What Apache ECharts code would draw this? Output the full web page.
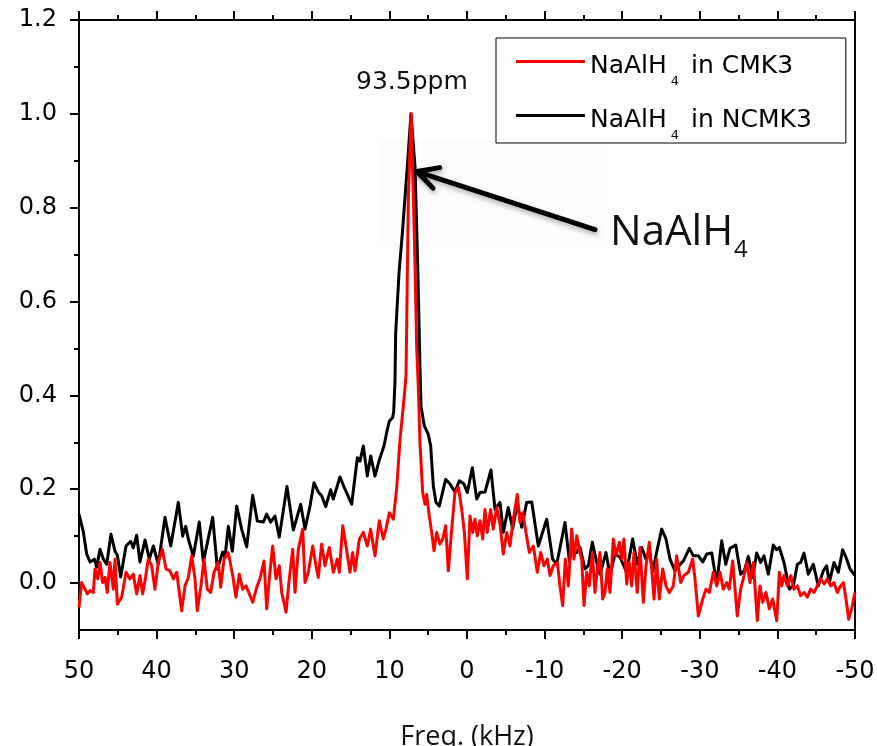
<!DOCTYPE html>
<html>
<head>
<meta charset="utf-8">
<script src="https://cdn.jsdelivr.net/npm/echarts@6/dist/echarts.min.js"></script>
<style>
  html, body { margin: 0; padding: 0; background: #fff; }
  #chart { width: 877px; height: 746px; }
</style>
</head>
<body>
<div id="chart"></div>
<script>
// 27Al NMR spectra, frequency offset in kHz (axis runs from +50 to -50)
const freqNCMK3 = [50.0, 49.44, 49.01, 48.58, 48.02, 47.72, 47.29, 46.86, 46.43, 45.88, 45.36, 45.06, 44.63, 43.94, 43.34, 43.00, 42.57, 42.14, 41.49, 40.94, 40.42, 39.78, 38.92, 38.18, 37.20, 36.64, 36.25, 35.91, 35.27, 34.50, 33.98, 32.77, 32.17, 31.49, 31.19, 30.76, 30.24, 29.68, 29.04, 28.39, 27.62, 27.02, 26.25, 25.81, 25.30, 24.74, 24.19, 23.20, 22.38, 21.43, 20.88, 20.23, 19.72, 19.16, 18.73, 18.21, 17.57, 17.23, 16.37, 15.72, 14.86, 14.13, 13.79, 13.36, 12.84, 12.41, 11.86, 11.34, 10.70, 10.35, 10.01, 9.58, 9.45, 9.28, 9.19, 8.76, 8.33, 7.69, 7.22, 6.70, 6.35, 6.06, 5.93, 5.50, 4.99, 4.68, 4.34, 4.00, 3.57, 2.75, 2.19, 1.55, 0.99, 0.39, -0.04, -0.69, -1.25, -1.68, -2.32, -3.09, -3.61, -4.25, -4.68, -5.32, -5.89, -6.48, -7.05, -7.69, -8.34, -9.19, -10.27, -11.04, -11.56, -12.63, -13.19, -13.62, -14.14, -14.56, -15.21, -15.63, -16.15, -16.71, -17.14, -17.91, -18.43, -19.07, -19.72, -20.57, -21.35, -21.94, -22.51, -23.07, -23.49, -23.93, -24.52, -25.09, -25.64, -26.16, -26.80, -27.45, -27.88, -28.65, -29.17, -29.81, -30.38, -30.89, -31.54, -32.18, -32.82, -33.34, -33.89, -34.63, -35.27, -35.74, -36.25, -36.82, -37.33, -37.85, -38.27, -38.83, -39.47, -39.91, -40.25, -40.85, -41.54, -42.05, -42.57, -43.00, -43.43, -43.98, -44.63, -45.27, -45.91, -46.35, -46.69, -47.29, -47.85, -48.41, -48.84, -49.36, -50.0];
const intNCMK3 = [0.147, 0.109, 0.062, 0.045, 0.051, 0.034, 0.072, 0.051, 0.040, 0.104, 0.068, 0.060, 0.013, 0.079, 0.089, 0.075, 0.102, 0.045, 0.092, 0.051, 0.079, 0.040, 0.140, 0.079, 0.172, 0.100, 0.121, 0.094, 0.057, 0.130, 0.045, 0.140, 0.030, 0.066, 0.055, 0.121, 0.068, 0.164, 0.115, 0.077, 0.187, 0.132, 0.130, 0.147, 0.130, 0.143, 0.098, 0.206, 0.113, 0.168, 0.115, 0.164, 0.214, 0.194, 0.186, 0.163, 0.199, 0.179, 0.226, 0.200, 0.168, 0.267, 0.260, 0.292, 0.228, 0.271, 0.228, 0.260, 0.292, 0.321, 0.345, 0.353, 0.365, 0.430, 0.533, 0.661, 0.746, 0.888, 1.000, 0.888, 0.675, 0.462, 0.377, 0.335, 0.317, 0.292, 0.207, 0.172, 0.164, 0.221, 0.211, 0.194, 0.218, 0.211, 0.193, 0.246, 0.179, 0.193, 0.194, 0.241, 0.157, 0.172, 0.108, 0.161, 0.115, 0.172, 0.119, 0.172, 0.173, 0.079, 0.136, 0.051, 0.040, 0.129, 0.047, 0.079, 0.065, 0.076, 0.030, 0.037, 0.087, 0.044, 0.019, 0.065, 0.016, 0.062, 0.055, 0.023, 0.094, 0.040, 0.076, 0.051, 0.069, 0.024, 0.072, 0.115, 0.094, 0.051, 0.026, 0.040, 0.047, 0.074, 0.058, 0.058, 0.045, 0.062, 0.064, -0.002, 0.090, 0.040, 0.074, 0.081, 0.019, 0.026, 0.057, 0.012, 0.064, 0.044, 0.058, 0.019, 0.081, 0.071, 0.076, 0.044, -0.013, -0.006, 0.040, 0.044, 0.064, 0.019, 0.040, -0.006, 0.026, 0.037, 0.001, 0.044, 0.023, 0.071, 0.055, 0.030, 0.016];

const freqCMK3 = [50.0, 49.66, 49.23, 48.93, 48.58, 48.15, 47.94, 47.59, 47.29, 46.95, 46.65, 46.35, 46.01, 45.58, 45.36, 45.06, 44.50, 43.94, 43.43, 43.00, 42.57, 42.14, 41.80, 41.49, 41.07, 40.63, 40.21, 39.78, 39.26, 38.79, 38.27, 37.84, 37.41, 36.77, 36.34, 35.91, 35.48, 35.05, 34.76, 34.28, 33.89, 33.47, 33.03, 32.60, 32.05, 31.74, 31.31, 30.76, 30.19, 29.77, 29.34, 28.91, 28.48, 28.05, 27.62, 27.10, 26.68, 26.16, 25.81, 25.48, 25.04, 24.61, 24.19, 23.88, 23.32, 22.90, 22.46, 22.16, 21.74, 21.17, 20.88, 20.45, 19.88, 19.46, 19.16, 18.73, 18.30, 17.74, 17.23, 16.71, 16.45, 16.02, 15.59, 15.08, 14.73, 14.43, 13.87, 13.36, 12.84, 12.41, 11.86, 11.30, 10.79, 10.44, 10.01, 9.50, 9.07, 8.63, 8.20, 7.86, 7.56, 7.20, 6.79, 6.48, 6.28, 6.06, 5.71, 5.41, 5.20, 4.86, 4.55, 4.25, 3.91, 3.48, 3.13, 2.75, 2.41, 1.97, 1.55, 1.11, 0.68, 0.34, -0.04, -0.39, -0.73, -1.03, -1.33, -1.68, -2.02, -2.32, -2.61, -3.05, -3.39, -3.83, -4.25, -4.68, -5.12, -5.54, -5.97, -6.48, -6.83, -7.18, -7.60, -8.03, -8.55, -9.06, -9.50, -9.92, -10.35, -10.70, -11.12, -11.64, -11.98, -12.33, -12.67, -13.06, -13.49, -13.79, -14.14, -14.56, -14.78, -15.08, -15.42, -15.76, -16.15, -16.49, -16.80, -17.14, -17.49, -17.78, -18.08, -18.43, -18.85, -19.20, -19.63, -19.93, -20.23, -20.58, -20.91, -21.22, -21.52, -21.94, -22.29, -22.72, -23.07, -23.49, -23.80, -24.10, -24.44, -24.78, -25.22, -25.64, -26.07, -26.59, -27.02, -27.54, -27.96, -28.52, -29.08, -29.38, -29.81, -30.38, -30.80, -31.23, -31.74, -32.18, -32.60, -33.03, -33.47, -33.80, -34.24, -34.83, -35.27, -35.70, -36.04, -36.47, -36.90, -37.41, -37.76, -38.11, -38.53, -38.96, -39.39, -39.91, -40.25, -40.56, -40.85, -41.28, -41.72, -42.14, -42.57, -43.00, -43.43, -43.86, -44.29, -44.72, -45.14, -45.58, -46.01, -46.43, -46.87, -47.29, -47.72, -48.16, -48.50, -48.84, -49.19, -49.57, -50.0];
const intCMK3 = [-0.052, 0.001, -0.013, -0.023, -0.016, -0.020, 0.030, 0.009, 0.044, 0.001, 0.012, -0.020, 0.044, -0.013, 0.051, -0.045, -0.030, 0.023, 0.009, 0.019, -0.023, 0.016, -0.023, 0.005, 0.051, 0.037, -0.013, 0.044, 0.072, 0.030, 0.026, 0.009, 0.023, -0.059, -0.006, 0.012, 0.058, 0.009, -0.059, -0.006, 0.051, -0.013, -0.020, 0.023, 0.044, -0.009, 0.051, 0.065, 0.016, -0.030, 0.019, -0.013, -0.006, -0.023, -0.041, -0.009, 0.009, 0.047, -0.055, 0.009, 0.079, 0.009, 0.037, -0.020, -0.062, 0.009, 0.072, -0.020, 0.072, 0.115, 0.001, 0.023, 0.079, 0.037, 0.012, 0.083, 0.037, 0.076, 0.023, 0.051, 0.023, 0.122, 0.079, 0.023, 0.065, 0.026, 0.094, 0.108, 0.079, 0.115, 0.058, 0.133, 0.094, 0.115, 0.150, 0.136, 0.200, 0.306, 0.377, 0.441, 0.817, 1.000, 0.746, 0.500, 0.420, 0.299, 0.193, 0.168, 0.189, 0.143, 0.108, 0.069, 0.108, 0.083, 0.094, 0.122, 0.026, 0.115, 0.193, 0.204, 0.157, 0.108, 0.009, 0.143, 0.108, 0.136, 0.101, 0.133, 0.094, 0.157, 0.108, 0.157, 0.115, 0.161, 0.126, 0.062, 0.108, 0.079, 0.136, 0.189, 0.129, 0.150, 0.108, 0.065, 0.079, 0.023, 0.065, 0.037, 0.051, 0.016, 0.037, 0.044, -0.006, -0.048, 0.051, -0.006, 0.115, 0.051, 0.101, 0.065, 0.051, -0.048, 0.023, -0.006, 0.065, -0.020, 0.030, 0.065, -0.034, -0.020, 0.030, -0.020, 0.094, 0.058, 0.087, 0.051, 0.094, -0.002, 0.044, -0.006, 0.065, -0.020, 0.076, -0.041, 0.037, 0.087, 0.030, -0.034, 0.051, -0.034, 0.030, -0.006, -0.020, -0.006, 0.058, 0.001, 0.016, 0.023, 0.051, 0.009, -0.070, -0.034, -0.013, -0.020, 0.023, -0.006, 0.023, -0.013, 0.001, -0.013, 0.047, -0.070, -0.013, 0.016, 0.044, 0.001, 0.044, -0.080, -0.006, -0.041, -0.020, -0.055, -0.034, -0.080, 0.023, -0.006, 0.016, -0.006, 0.016, -0.013, -0.006, -0.027, -0.020, -0.030, -0.013, -0.020, -0.006, 0.009, -0.002, 0.009, -0.006, 0.001, -0.020, -0.006, 0.001, -0.034, -0.077, -0.055, -0.020];

const seriesNames = ['NaAlH4 in CMK3', 'NaAlH4 in NCMK3'];
const yMajorTicks = [0, 0.2, 0.4, 0.6, 0.8, 1.0, 1.2];
const yMinorTicks = [0.1, 0.3, 0.5, 0.7, 0.9, 1.1];

// annotation anchors, in (kHz, intensity)
const peakLabel = '93.5ppm';
const peakLabelAt = [7.1, 1.066];
const arrowTip = [6.44, 0.877];
const arrowTail = [-16.49, 0.753];
const speciesLabelAt = [-18.43, 0.791];
const insetBox = [[10.95, 0.945], [-18.04, 0.717]];

const pairs = (xs, ys) => xs.map((x, i) => [x, ys[i]]);

const tickFont = 'DejaVu Sans';
const chart = echarts.init(document.getElementById('chart'), null, { renderer: 'canvas' });

const xCommon = {
  type: 'value', min: -50, max: 50, interval: 10, inverse: true,
  splitLine: { show: false }, minorSplitLine: { show: false },
  axisLine: { show: true, onZero: false, lineStyle: { color: '#000', width: 2 } },
  axisTick: { show: true, length: 9, lineStyle: { color: '#000', width: 2 } },
  minorTick: { show: true, splitNumber: 2, length: 5, lineStyle: { color: '#000', width: 2 } }
};

chart.setOption({
  animation: false,
  backgroundColor: '#fff',
  grid: {
    left: 79, right: 22, top: 20, bottom: 116, outerBoundsMode: 'none', containLabel: false,
    show: true, borderColor: '#000', borderWidth: 2, backgroundColor: 'transparent'
  },
  xAxis: [
    Object.assign({}, xCommon, {
      position: 'bottom',
      axisLabel: { fontFamily: tickFont, fontSize: 24, color: '#000', margin: 30, formatter: v => String(v) },
      name: 'Freq. (kHz)', nameLocation: 'middle', nameGap: 94,
      nameTextStyle: { fontFamily: 'Open Sans', fontSize: 27, color: '#111' }
    }),
    Object.assign({}, xCommon, { position: 'top', axisLabel: { show: false } })
  ],
  yAxis: [
    {
      type: 'value', min: -0.1, max: 1.2, position: 'left',
      splitLine: { show: false },
      axisLine: { show: true, onZero: false, lineStyle: { color: '#000', width: 2 } },
      axisTick: { show: true, length: 9, customValues: yMajorTicks, lineStyle: { color: '#000', width: 2 } },
      axisLabel: { fontFamily: tickFont, fontSize: 24, color: '#000', margin: 22, customValues: yMajorTicks, formatter: v => v.toFixed(1) }
    },
    {
      type: 'value', min: -0.1, max: 1.2, position: 'left',
      splitLine: { show: false },
      axisLine: { show: false, onZero: false },
      axisTick: { show: true, length: 5, customValues: yMinorTicks, lineStyle: { color: '#000', width: 2 } },
      axisLabel: { show: false }
    }
  ],
  legend: {
    data: seriesNames, orient: 'vertical', left: 496, top: 38,
    padding: [16, 34, 1, 20], itemGap: 20, itemWidth: 69, itemHeight: 12,
    icon: 'path://M0,0H69V3H0Z M0,12H0.01V12Z',
    itemStyle: { borderWidth: 0 },
    borderColor: '#000', borderWidth: 1, borderRadius: 0, backgroundColor: '#fff',
    selectedMode: false,
    formatter: n => n.replace(/^NaAlH4(.*)$/, '{m|NaAlH}{s|4}{m|$1}'),
    textStyle: {
      color: '#000',
      rich: {
        m: { fontFamily: tickFont, fontSize: 25, lineHeight: 24, verticalAlign: 'top', color: '#000' },
        s: { fontFamily: tickFont, fontSize: 13, lineHeight: 24, verticalAlign: 'top', padding: [21, 4, 0, 4], color: '#000' }
      }
    }
  },
  series: [
    {
      name: seriesNames[1], type: 'line', data: pairs(freqNCMK3, intNCMK3),
      symbol: 'none', showSymbol: false, color: '#000', z: 2,
      lineStyle: { color: '#000', width: 3, join: 'round' }
    },
    {
      name: seriesNames[0], type: 'line', data: pairs(freqCMK3, intCMK3),
      symbol: 'none', showSymbol: false, color: '#ff0000', z: 3,
      lineStyle: { color: '#ff0000', width: 3, join: 'round' }
    }
  ]
});

// annotations placed from data coordinates
const px = p => chart.convertToPixel({ seriesIndex: 0 }, p);
const tip = px(arrowTip), tail = px(arrowTail);
const dx = tail[0] - tip[0], dy = tail[1] - tip[1];
const len = Math.hypot(dx, dy);
const ux = dx / len, uy = dy / len;
const arm = (deg, L) => {
  const a = deg * Math.PI / 180;
  return [tip[0] + L * (ux * Math.cos(a) - uy * Math.sin(a)), tip[1] + L * (ux * Math.sin(a) + uy * Math.cos(a))];
};
const b0 = px(insetBox[0]), b1 = px(insetBox[1]);
const peakAt = px(peakLabelAt);
const specAt = px(speciesLabelAt);
const arrowStyle = { stroke: '#000', lineWidth: 5, lineCap: 'round', lineJoin: 'round', fill: null,
  shadowBlur: 5, shadowColor: 'rgba(0,0,0,0.3)', shadowOffsetX: 1, shadowOffsetY: 3 };

chart.setOption({
  graphic: [
    { type: 'rect', z: 0, silent: true,
      shape: { x: b0[0], y: b0[1], width: b1[0] - b0[0], height: b1[1] - b0[1] },
      style: { fill: 'rgba(0,0,0,0.012)' } },
    { type: 'line', z: 10, silent: true,
      shape: { x1: tail[0], y1: tail[1], x2: tip[0], y2: tip[1] }, style: arrowStyle },
    { type: 'polyline', z: 10, silent: true,
      shape: { points: [arm(-28, 23), tip, arm(28, 23)] }, style: arrowStyle },
    { type: 'text', z: 10, silent: true, x: peakAt[0], y: peakAt[1],
      style: { text: peakLabel, fontFamily: tickFont, fontSize: 25, fill: '#111', align: 'center', verticalAlign: 'middle' } },
    { type: 'text', z: 10, silent: true, x: specAt[0], y: specAt[1],
      style: {
        text: '{m|NaAlH}{s|4}', align: 'left', verticalAlign: 'top',
        rich: {
          m: { fontFamily: 'Open Sans', fontSize: 42, lineHeight: 42, verticalAlign: 'top', fill: '#111' },
          s: { fontFamily: 'Open Sans', fontSize: 24, lineHeight: 42, verticalAlign: 'top', padding: [26, 0, 0, 1], fill: '#111' }
        }
      } }
  ]
});
</script>
</body>
</html>
